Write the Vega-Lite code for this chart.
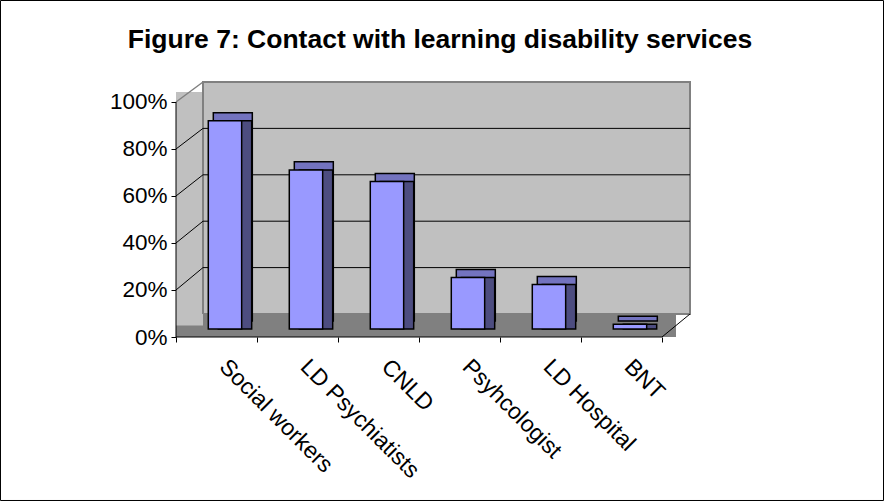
{
  "$schema": "https://vega.github.io/schema/vega-lite/v6.json",
  "autosize": {"type": "none"},
  "padding": {"left": 176, "top": 82, "right": 194, "bottom": 164},
  "width": 514,
  "height": 255,
  "background": "white",
  "config": {"view": {"stroke": null}, "font": "Liberation Sans"},
  "title": {
    "text": "Figure 7: Contact with learning disability services",
    "font": "Liberation Sans",
    "fontSize": 26.5,
    "fontWeight": "bold",
    "color": "black",
    "anchor": "middle",
    "baseline": "alphabetic",
    "dx": 7,
    "offset": -74
  },
  "data": {
    "values": [
      {"service": "Social workers", "pct": 0.89},
      {"service": "LD Psychiatists", "pct": 0.68},
      {"service": "CNLD", "pct": 0.63},
      {"service": "Psyhcologist", "pct": 0.22},
      {"service": "LD Hospital", "pct": 0.19},
      {"service": "BNT", "pct": 0.02}
    ]
  },
  "resolve": {"scale": {"x": "independent", "y": "independent"}},
  "layer": [
    {
      "data": {"values": [{}]},
      "layer": [
        {
          "mark": {"type": "rect", "fill": "#c0c0c0", "stroke": "#808080", "strokeWidth": 2},
          "encoding": {
            "x": {"datum": 0.3333, "type": "quantitative",
              "scale": {"domain": [0, 6.3457], "nice": false, "zero": false},
              "axis": {"values": [0, 1, 2, 3, 4, 5, 6], "labels": false, "domain": false, "grid": false, "ticks": true, "tickSize": 5, "tickColor": "black", "title": null, "orient": "bottom"}},
            "x2": {"datum": 6.3457},
            "y": {"datum": 0.0979, "type": "quantitative",
              "scale": {"domain": [0, 1.0851], "nice": false, "zero": false},
              "axis": {"values": [0, 0.2, 0.4, 0.6, 0.8, 1], "format": ".0%", "domain": false, "grid": false, "tickSize": 5, "tickColor": "black", "labelFont": "Liberation Sans", "labelFontSize": 22.5, "labelColor": "black", "labelPadding": 4, "title": null}},
            "y2": {"datum": 1.0851}
          }
        },
        {
          "mark": {"type": "rect", "fill": "#808080"},
          "encoding": {
            "x": {"datum": 0, "type": "quantitative"},
            "x2": {"datum": 6.1728},
            "y": {"datum": 0, "type": "quantitative"},
            "y2": {"datum": 0.0979}
          }
        },
        {
          "mark": {"type": "rect", "fill": "#c0c0c0"},
          "encoding": {
            "x": {"datum": 0, "type": "quantitative"},
            "x2": {"datum": 0.3333},
            "y": {"datum": 0.049, "type": "quantitative"},
            "y2": {"datum": 1.0426}
          }
        },
        {
          "mark": {"type": "rule", "color": "#808080", "strokeWidth": 2},
          "encoding": {
            "x": {"datum": 0.3333, "type": "quantitative"},
            "x2": {"datum": 0.3333},
            "y": {"datum": 0.0979, "type": "quantitative"},
            "y2": {"datum": 1.0851}
          }
        },
        {
          "mark": {"type": "rule", "color": "#808080", "strokeWidth": 1.5},
          "encoding": {
            "x": {"datum": 0, "type": "quantitative"},
            "x2": {"datum": 0.3333},
            "y": {"datum": 1.0, "type": "quantitative"},
            "y2": {"datum": 1.0851}
          }
        },
        {
          "mark": {"type": "rule", "color": "black", "strokeWidth": 1},
          "encoding": {
            "x": {"datum": 0, "type": "quantitative"},
            "x2": {"datum": 0.3333},
            "y": {"datum": 0.2, "type": "quantitative"},
            "y2": {"datum": 0.2953}
          }
        },
        {
          "mark": {"type": "rule", "color": "black", "strokeWidth": 1},
          "encoding": {
            "x": {"datum": 0, "type": "quantitative"},
            "x2": {"datum": 0.3333},
            "y": {"datum": 0.4, "type": "quantitative"},
            "y2": {"datum": 0.4928}
          }
        },
        {
          "mark": {"type": "rule", "color": "black", "strokeWidth": 1},
          "encoding": {
            "x": {"datum": 0, "type": "quantitative"},
            "x2": {"datum": 0.3333},
            "y": {"datum": 0.6, "type": "quantitative"},
            "y2": {"datum": 0.6902}
          }
        },
        {
          "mark": {"type": "rule", "color": "black", "strokeWidth": 1},
          "encoding": {
            "x": {"datum": 0, "type": "quantitative"},
            "x2": {"datum": 0.3333},
            "y": {"datum": 0.8, "type": "quantitative"},
            "y2": {"datum": 0.8877}
          }
        },
        {
          "mark": {"type": "rule", "color": "black", "strokeWidth": 1},
          "encoding": {
            "x": {"datum": 0.3333, "type": "quantitative"},
            "x2": {"datum": 6.3457},
            "y": {"datum": 0.2953, "type": "quantitative"},
            "y2": {"datum": 0.2953}
          }
        },
        {
          "mark": {"type": "rule", "color": "black", "strokeWidth": 1},
          "encoding": {
            "x": {"datum": 0.3333, "type": "quantitative"},
            "x2": {"datum": 6.3457},
            "y": {"datum": 0.4928, "type": "quantitative"},
            "y2": {"datum": 0.4928}
          }
        },
        {
          "mark": {"type": "rule", "color": "black", "strokeWidth": 1},
          "encoding": {
            "x": {"datum": 0.3333, "type": "quantitative"},
            "x2": {"datum": 6.3457},
            "y": {"datum": 0.6902, "type": "quantitative"},
            "y2": {"datum": 0.6902}
          }
        },
        {
          "mark": {"type": "rule", "color": "black", "strokeWidth": 1},
          "encoding": {
            "x": {"datum": 0.3333, "type": "quantitative"},
            "x2": {"datum": 6.3457},
            "y": {"datum": 0.8877, "type": "quantitative"},
            "y2": {"datum": 0.8877}
          }
        },
        {
          "mark": {"type": "rule", "color": "black", "strokeWidth": 1},
          "encoding": {
            "x": {"datum": 0, "type": "quantitative"},
            "x2": {"datum": 0},
            "y": {"datum": 0, "type": "quantitative"},
            "y2": {"datum": 1.0}
          }
        },
        {
          "mark": {"type": "rule", "color": "black", "strokeWidth": 1},
          "encoding": {
            "x": {"datum": 0, "type": "quantitative"},
            "x2": {"datum": 6},
            "y": {"datum": 0, "type": "quantitative"},
            "y2": {"datum": 0}
          }
        },
        {
          "mark": {"type": "rule", "color": "black", "strokeWidth": 1},
          "encoding": {
            "x": {"datum": 6, "type": "quantitative"},
            "x2": {"datum": 6.3457},
            "y": {"datum": 0, "type": "quantitative"},
            "y2": {"datum": 0.0979}
          }
        },
        {
          "mark": {"type": "rect", "fill": null, "fillOpacity": 0, "stroke": "black", "strokeWidth": 1},
          "encoding": {
            "x": {"datum": -2.1667, "type": "quantitative"},
            "x2": {"datum": 8.7346},
            "y": {"datum": -0.6957, "type": "quantitative"},
            "y2": {"datum": 1.4319}
          }
        }
      ]
    },
    {
      "mark": {"type": "bar", "fill": "#7373bf", "stroke": "black", "strokeWidth": 1.5},
      "encoding": {
        "x": {"field": "service", "type": "nominal", "sort": null,
          "scale": {"type": "band", "paddingInner": 0.5185, "paddingOuter": 0.4321, "align": 0.533}, "axis": null},
        "y": {"field": "pct", "type": "quantitative",
          "scale": {"domain": [-0.0684, 1.0213], "nice": false, "zero": false}, "axis": null}
      }
    },
    {
      "mark": {"type": "bar", "fill": "#4d4d80", "stroke": "black", "strokeWidth": 1.5},
      "encoding": {
        "x": {"field": "service", "type": "nominal", "sort": null,
          "scale": {"type": "band", "paddingInner": 0.588, "paddingOuter": 0.4668, "align": 0.5595}, "axis": null},
        "y": {"field": "pct", "type": "quantitative",
          "scale": {"domain": [-0.0342, 1.0556], "nice": false, "zero": false}, "axis": null}
      }
    },
    {
      "mark": {"type": "bar", "fill": "#9999ff", "stroke": "black", "strokeWidth": 1.5},
      "encoding": {
        "x": {"field": "service", "type": "nominal", "sort": null,
          "scale": {"type": "band", "paddingInner": 0.588, "paddingOuter": 0.4668, "align": 0.427},
          "axis": {"orient": "bottom", "title": null, "domain": false, "ticks": false, "labelAngle": 45, "labelFont": "Liberation Sans", "labelFontSize": 23, "labelColor": "black", "labelPadding": 18, "labelOffset": 6}},
        "y": {"field": "pct", "type": "quantitative",
          "scale": {"domain": [-0.0342, 1.0556], "nice": false, "zero": false}, "axis": null}
      }
    }
  ]
}
